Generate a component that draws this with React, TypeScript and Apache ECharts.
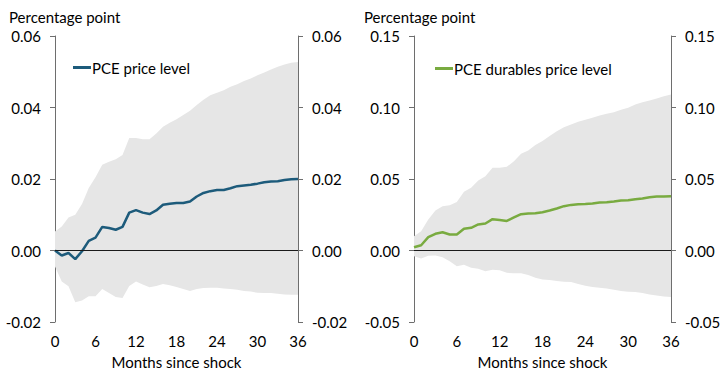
import React, { useEffect, useRef } from "react";
import * as echarts from "echarts";

const months = [0,1,2,3,4,5,6,7,8,9,10,11,12,13,14,15,16,17,18,19,20,21,22,23,24,25,26,27,28,29,30,31,32,33,34,35,36];
const xTickLabels = ["0","6","12","18","24","30","36"];

const pceLine = [0.0,-0.0014,-0.0007,-0.0024,-0.0002,0.0027,0.0036,0.0066,0.0063,0.0058,0.0066,0.0106,0.0113,0.0106,0.0102,0.0112,0.0128,0.0131,0.0133,0.0133,0.0137,0.0151,0.0161,0.0166,0.0169,0.0169,0.0174,0.018,0.0182,0.0184,0.0187,0.0191,0.0193,0.0194,0.0197,0.0199,0.02];
const pceLower = [-0.0045,-0.0087,-0.01,-0.0145,-0.014,-0.0128,-0.0128,-0.0108,-0.0119,-0.013,-0.0133,-0.0099,-0.0087,-0.0095,-0.0103,-0.0099,-0.0094,-0.0097,-0.0102,-0.0108,-0.0113,-0.0108,-0.0105,-0.0104,-0.0104,-0.0106,-0.0108,-0.011,-0.0113,-0.0115,-0.0118,-0.0119,-0.0119,-0.0121,-0.0123,-0.0124,-0.0124];
const pceUpper = [0.0053,0.0067,0.0092,0.01,0.013,0.0175,0.0205,0.024,0.0248,0.0255,0.0267,0.0315,0.0315,0.0311,0.0311,0.0327,0.0346,0.0357,0.0367,0.0379,0.0391,0.0407,0.0422,0.0434,0.0441,0.0448,0.0458,0.0465,0.0474,0.0481,0.049,0.0498,0.0506,0.0514,0.052,0.0525,0.0527];

const durLine = [0.0023,0.0037,0.0093,0.0117,0.0128,0.0112,0.0112,0.0152,0.0159,0.0182,0.0189,0.0219,0.0214,0.0207,0.0231,0.0254,0.0259,0.0261,0.0268,0.028,0.0294,0.031,0.0319,0.0324,0.0326,0.0329,0.0336,0.0338,0.0343,0.035,0.0352,0.0359,0.0364,0.0373,0.0378,0.0378,0.038];
const durLower = [-0.004,-0.0056,-0.0037,-0.0035,-0.0047,-0.0075,-0.011,-0.01,-0.0121,-0.0128,-0.0145,-0.0135,-0.0138,-0.0156,-0.0159,-0.0159,-0.0172,-0.0191,-0.0203,-0.0207,-0.0214,-0.0219,-0.0221,-0.0235,-0.0247,-0.0256,-0.0261,-0.0266,-0.0275,-0.0284,-0.0289,-0.0291,-0.0298,-0.0308,-0.0315,-0.0322,-0.0326];
const durUpper = [0.01,0.0135,0.0217,0.028,0.031,0.0317,0.034,0.041,0.0438,0.049,0.052,0.0578,0.0578,0.0585,0.0625,0.0676,0.0699,0.0737,0.0765,0.08,0.0834,0.0862,0.0881,0.09,0.0914,0.0928,0.0944,0.0956,0.0967,0.0984,0.0998,0.1021,0.1037,0.1049,0.1063,0.1079,0.1091];

const leftName = "PCE price level";
const rightName = "PCE durables price level";
const yTitle = "Percentage point";
const xTitle = "Months since shock";

const FONT = "Lato";
const FS = 15;
const AXIS_COLOR = "#6e6e6e";
const BAND_COLOR = "#e6e6e6";

const pairs = (vals: number[]) => months.map((m, i) => [m, vals[i]]);

function xAxisFor(gridIndex: number) {
  return {
    type: "value",
    gridIndex,
    min: 0,
    max: 36,
    interval: 6,
    name: xTitle,
    nameLocation: "middle",
    nameGap: 32,
    nameTextStyle: { fontFamily: FONT, fontSize: FS, color: "#000" },
    axisLine: { show: true, lineStyle: { color: AXIS_COLOR, width: 1 } },
    axisTick: { show: true, length: 5, lineStyle: { color: AXIS_COLOR } },
    axisLabel: {
      fontFamily: FONT,
      fontSize: FS,
      color: "#000",
      margin: 11,
      formatter: (v: number) => xTickLabels[Math.round(v / 6)] ?? String(v),
    },
    splitLine: { show: false },
  };
}

function yAxisFor(gridIndex: number, position: string, min: number, max: number, interval: number) {
  return {
    type: "value",
    gridIndex,
    position,
    min,
    max,
    interval,
    axisLine: { show: true, lineStyle: { color: AXIS_COLOR, width: 1 } },
    axisTick: { show: true, length: 5, lineStyle: { color: AXIS_COLOR } },
    axisLabel: {
      fontFamily: FONT,
      fontSize: FS,
      color: "#000",
      margin: 14,
      formatter: (v: number) => v.toFixed(2),
    },
    splitLine: { show: false },
  };
}

function bandSeries(prefix: string, xIdx: number, yIdx: number, lower: number[], upper: number[]) {
  return {
    name: prefix + "-band",
    type: "custom",
    xAxisIndex: xIdx,
    yAxisIndex: yIdx,
    silent: true,
    data: months.map((m, i) => [m, upper[i], lower[i]]),
    encode: { x: 0, y: [1, 2] },
    renderItem: (params: any, api: any) => {
      if (params.dataIndex !== 0) return null;
      const pts: number[][] = [];
      for (let i = 0; i < months.length; i++) pts.push(api.coord([months[i], upper[i]]));
      for (let i = months.length - 1; i >= 0; i--) pts.push(api.coord([months[i], lower[i]]));
      return {
        type: "polygon",
        shape: { points: pts },
        style: { fill: BAND_COLOR, stroke: "none" },
      };
    },
    markLine: {
      silent: true,
      symbol: "none",
      label: { show: false },
      lineStyle: { color: "#1a1a1a", width: 1, type: "solid" },
      data: [{ yAxis: 0 }],
    },
    z: 1,
  };
}

export default function App() {
  const ref = useRef<HTMLDivElement>(null);
  useEffect(() => {
    if (!ref.current) return;
    const chart = echarts.init(ref.current, undefined, { renderer: "svg" });
    const titleStyle = { fontFamily: FONT, fontSize: FS, fontWeight: "normal", color: "#000" };
    const option = {
      animation: false,
      backgroundColor: "#fff",
      textStyle: { fontFamily: FONT },
      title: [
        { text: yTitle, left: 4, top: 4, textStyle: titleStyle },
        { text: yTitle, left: 359, top: 4, textStyle: titleStyle },
      ],
      legend: [
        {
          data: [leftName],
          left: 73,
          top: 60,
          padding: 0,
          icon: "rect",
          itemWidth: 18,
          itemHeight: 3,
          textStyle: { fontFamily: FONT, fontSize: FS, color: "#000", padding: [0, 0, 0, -4] },
        },
        {
          data: [rightName],
          left: 435,
          top: 61,
          padding: 0,
          icon: "rect",
          itemWidth: 18,
          itemHeight: 3,
          textStyle: { fontFamily: FONT, fontSize: FS, color: "#000", padding: [0, 0, 0, -4] },
        },
      ],
      grid: [
        { left: 55, top: 36, width: 243, height: 286, containLabel: false },
        { left: 414, top: 36, width: 257, height: 286, containLabel: false },
      ],
      xAxis: [xAxisFor(0), xAxisFor(1)],
      yAxis: [
        yAxisFor(0, "left", -0.02, 0.06, 0.02),
        yAxisFor(0, "right", -0.02, 0.06, 0.02),
        yAxisFor(1, "left", -0.05, 0.15, 0.05),
        yAxisFor(1, "right", -0.05, 0.15, 0.05),
      ],
      series: [
        bandSeries("pce", 0, 0, pceLower, pceUpper),
        {
          name: leftName,
          type: "line",
          xAxisIndex: 0,
          yAxisIndex: 0,
          data: pairs(pceLine),
          symbol: "none",
          color: "#1d5b7b",
          lineStyle: { color: "#1d5b7b", width: 2.5 },
          z: 3,
        },
        bandSeries("dur", 1, 2, durLower, durUpper),
        {
          name: rightName,
          type: "line",
          xAxisIndex: 1,
          yAxisIndex: 2,
          data: pairs(durLine),
          symbol: "none",
          color: "#79ab40",
          lineStyle: { color: "#79ab40", width: 2.5 },
          z: 3,
        },
      ],
    };
    chart.setOption(option as any);
    return () => chart.dispose();
  }, []);
  return <div ref={ref} style={{ width: 725, height: 375, position: "absolute", left: 0, top: 0 }} />;
}
